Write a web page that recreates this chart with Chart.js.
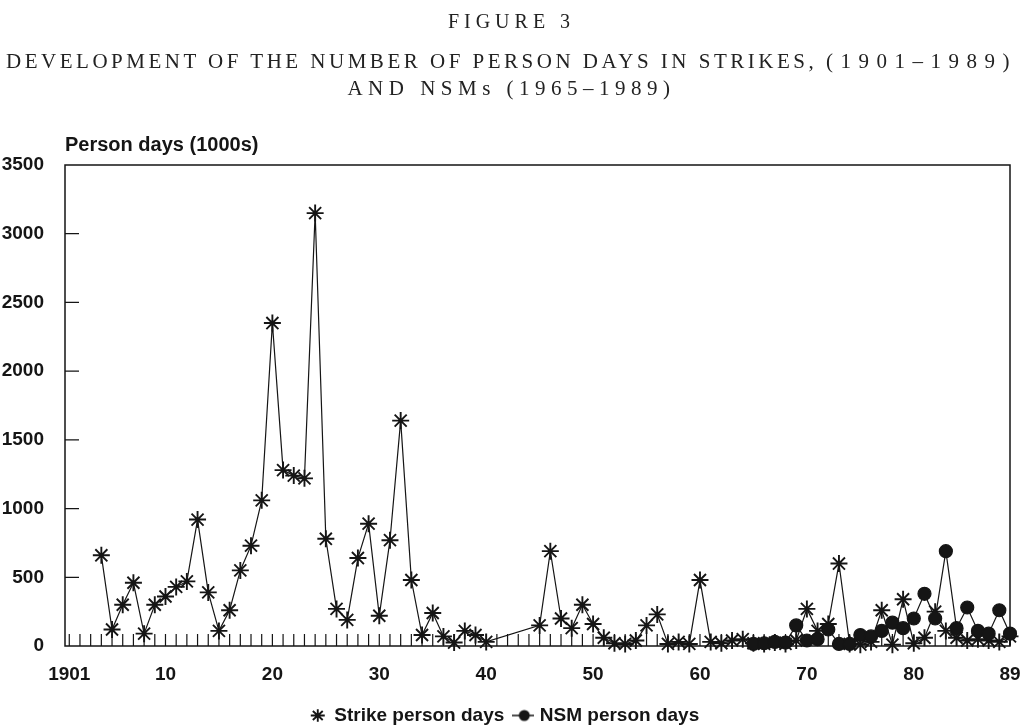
<!DOCTYPE html>
<html>
<head>
<meta charset="utf-8">
<script src="https://cdn.jsdelivr.net/npm/chart.js@4.4.1/dist/chart.umd.min.js"></script>
<style>
html, body { margin: 0; padding: 0; background: #fff; }
#wrap { position: relative; width: 1023px; height: 727px; overflow: hidden; }
#graph { position: absolute; left: 0; top: 0; }
.cap { position: absolute; left: 0; width: 1023px; text-align: center; color: #222;
       font-family: "Liberation Serif", "Times New Roman", serif; white-space: nowrap; }
.yrs { letter-spacing: 7.5px; }
</style>
</head>
<body>
<div id="wrap">
  <canvas id="graph" width="1023" height="727"></canvas>
  <div class="cap" style="top:10px;font-size:20px;letter-spacing:5px">FIGURE 3</div>
  <div class="cap" style="top:49px;font-size:21px;letter-spacing:3.5px">DEVELOPMENT OF THE NUMBER OF PERSON DAYS IN STRIKES, <span class="yrs">(1901–1989)</span></div>
  <div class="cap" style="top:76px;font-size:21px;letter-spacing:5.5px">AND NSMs (1965–1989)</div>
</div>
<script>
// strike person days (1000s), no data for the war years 1941-44
const strikeYears = [1904, 1905, 1906, 1907, 1908, 1909, 1910, 1911, 1912, 1913, 1914, 1915, 1916, 1917, 1918, 1919,
  1920, 1921, 1922, 1923, 1924, 1925, 1926, 1927, 1928, 1929, 1930, 1931, 1932, 1933, 1934, 1935, 1936, 1937, 1938, 1939, 1940,
  1945, 1946, 1947, 1948, 1949, 1950, 1951, 1952, 1953, 1954, 1955, 1956, 1957, 1958, 1959,
  1960, 1961, 1962, 1963, 1964, 1965, 1966, 1967, 1968, 1969, 1970, 1971, 1972, 1973, 1974, 1975, 1976, 1977, 1978, 1979,
  1980, 1981, 1982, 1983, 1984, 1985, 1986, 1987, 1988, 1989];
const strikeDays = [660, 120, 300, 460, 90, 300, 360, 430, 470, 920, 390, 110, 260, 550, 730, 1060,
  2350, 1280, 1240, 1220, 3150, 780, 270, 190, 640, 890, 220, 770, 1640, 480, 80, 240, 70, 25, 110, 80, 30,
  150, 690, 200, 130, 300, 160, 60, 20, 15, 40, 150, 230, 15, 30, 15,
  480, 30, 20, 40, 50, 20, 15, 25, 15, 40, 270, 110, 160, 600, 15, 10, 30, 260, 10, 340,
  20, 60, 250, 110, 60, 40, 50, 40, 30, 70];

// NSM person days (1000s)
const nsmYears = [1965, 1966, 1967, 1968, 1969, 1970, 1971, 1972, 1973, 1974, 1975, 1976, 1977, 1978, 1979,
  1980, 1981, 1982, 1983, 1984, 1985, 1986, 1987, 1988, 1989];
const nsmDays = [15, 20, 30, 25, 150, 40, 50, 120, 15, 15, 80, 70, 110, 170, 130,
  200, 380, 200, 690, 130, 280, 110, 90, 260, 90];

const xTickYears = [1901, 1910, 1920, 1930, 1940, 1950, 1960, 1970, 1980, 1989];
const xTickLabels = ['1901', '10', '20', '30', '40', '50', '60', '70', '80', '89'];
const yTickValues = [0, 500, 1000, 1500, 2000, 2500, 3000, 3500];

const ink = '#151515';
const sans = '"Liberation Sans", Arial, sans-serif';

// legend key for the NSM series: short line with a dot
const nsmKey = document.createElement('canvas');
nsmKey.width = 22;
nsmKey.height = 14;
const k = nsmKey.getContext('2d');
k.strokeStyle = ink;
k.lineWidth = 1.5;
k.beginPath(); k.moveTo(0, 7); k.lineTo(22, 7); k.stroke();
k.fillStyle = ink;
k.beginPath(); k.arc(12, 7, 5.5, 0, Math.PI * 2); k.fill();

// box round the plot, small inward ticks on both axes, axis caption
const frame = {
  id: 'frame',
  beforeDatasetsDraw(chart) {
    const { ctx, chartArea: a, scales: { x, y } } = chart;
    ctx.save();
    ctx.strokeStyle = ink;
    ctx.lineWidth = 1.5;
    ctx.strokeRect(a.left, a.top, a.right - a.left, a.bottom - a.top);
    ctx.lineWidth = 1.2;
    ctx.beginPath();
    for (let yr = 1901; yr <= 1989; yr++) {
      const px = x.getPixelForValue(yr);
      ctx.moveTo(px, a.bottom);
      ctx.lineTo(px, a.bottom - 12);
    }
    yTickValues.forEach(v => {
      if (v > 0 && v < 3500) {
        const py = y.getPixelForValue(v);
        ctx.moveTo(a.left, py);
        ctx.lineTo(a.left + 14, py);
      }
    });
    ctx.stroke();
    ctx.fillStyle = ink;
    ctx.font = 'bold 20px ' + sans;
    ctx.textBaseline = 'bottom';
    ctx.textAlign = 'left';
    ctx.fillText('Person days (1000s)', a.left, a.top - 10);
    ctx.restore();
  }
};

const strikeData = strikeYears.map((yr, i) => ({ x: yr, y: strikeDays[i] }));
const nsmData = nsmYears.map((yr, i) => ({ x: yr, y: nsmDays[i] }));

new Chart(document.querySelector('#graph'), {
  type: 'line',
  data: {
    datasets: [
      {
        label: 'Strike person days',
        data: strikeData,
        borderColor: ink,
        borderWidth: 1.2,
        pointStyle: 'star',
        pointRadius: 8.5,
        pointBorderWidth: 1.9,
        pointBorderColor: ink,
        pointBackgroundColor: ink,
        tension: 0,
        clip: false,
        order: 2
      },
      {
        label: 'NSM person days',
        data: nsmData,
        borderColor: ink,
        borderWidth: 1.2,
        pointStyle: 'circle',
        pointRadius: 6.5,
        pointBorderColor: ink,
        pointBackgroundColor: ink,
        tension: 0,
        clip: false,
        order: 1
      }
    ]
  },
  options: {
    responsive: false,
    animation: false,
    layout: { padding: { top: 165, right: 13, left: 0, bottom: -8 } },
    plugins: {
      tooltip: { enabled: false },
      legend: {
        position: 'bottom',
        labels: {
          usePointStyle: true,
          pointStyleWidth: 14,
          boxHeight: 9,
          color: ink,
          padding: 12,
          font: { family: sans, size: 19, weight: 'bold' },
          sort: (a, b) => a.datasetIndex - b.datasetIndex,
          generateLabels: (chart) => {
            const items = Chart.defaults.plugins.legend.labels.generateLabels(chart);
            items.forEach(it => { if (it.datasetIndex === 1) it.pointStyle = nsmKey; });
            return items;
          }
        }
      }
    },
    scales: {
      x: {
        type: 'linear',
        min: 1900.6,
        max: 1989,
        afterBuildTicks: (s) => { s.ticks = xTickYears.map(v => ({ value: v })); },
        afterFit: (s) => { s.height = 48; s.paddingLeft = 0; s.paddingRight = 0; },
        grid: { display: false, drawTicks: false },
        border: { display: false },
        ticks: {
          autoSkip: false,
          maxRotation: 0,
          padding: 17,
          color: ink,
          font: { family: sans, size: 19, weight: 'bold' },
          callback: (v) => xTickLabels[xTickYears.indexOf(v)]
        }
      },
      y: {
        min: 0,
        max: 3500,
        afterBuildTicks: (s) => { s.ticks = yTickValues.map(v => ({ value: v })); },
        afterFit: (s) => { s.width = 65; },
        grid: { display: false, drawTicks: false },
        border: { display: false },
        ticks: {
          padding: 21,
          color: ink,
          font: { family: sans, size: 19, weight: 'bold' },
          callback: (v) => String(v)
        }
      }
    }
  },
  plugins: [frame]
});
</script>
</body>
</html>
